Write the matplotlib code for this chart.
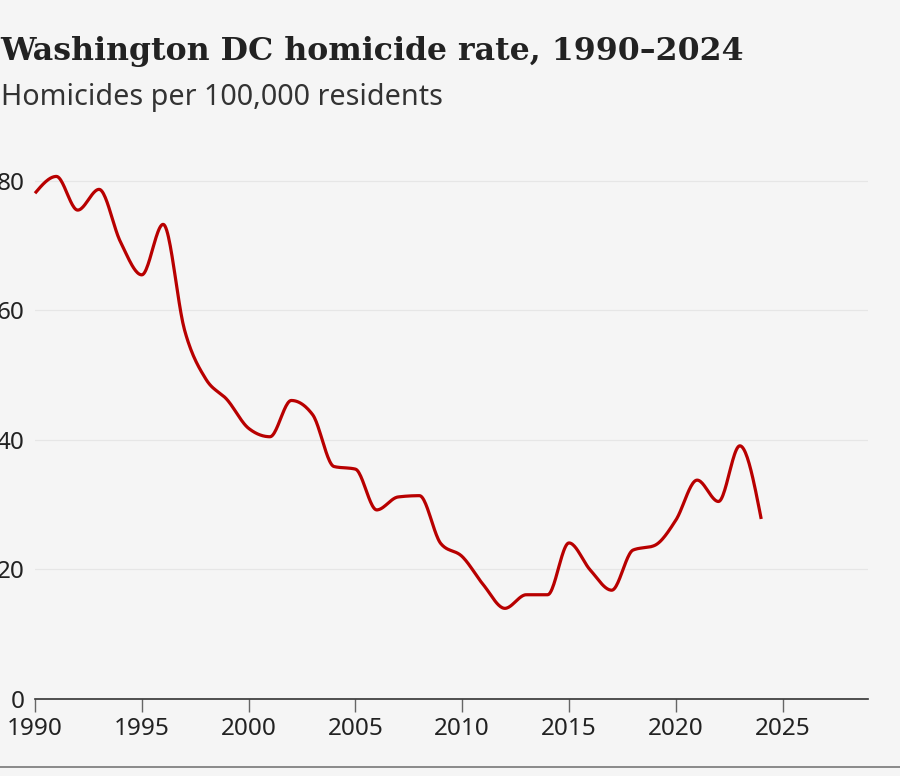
import numpy as np
import matplotlib
matplotlib.use("Agg")
import matplotlib.pyplot as plt
from matplotlib.lines import Line2D

# ---- data ----
years = list(range(1990, 2025))
rates = [78.1, 80.7, 75.5, 78.7, 70.6, 65.5, 73.3, 57.0, 49.4, 46.2,
         41.8, 40.5, 46.1, 43.9, 35.9, 35.5, 29.2, 31.2, 31.4, 24.0,
         22.0, 17.6, 14.0, 16.1, 16.1, 24.1, 19.9, 16.8, 23.0, 23.7,
         27.6, 33.8, 30.5, 39.1, 27.8]
x_ticks = [1990, 1995, 2000, 2005, 2010, 2015, 2020, 2025]
y_ticks = [0, 20, 40, 60, 80]
title = "Washington DC homicide rate, 1990\u20132024"
subtitle = "Homicides per 100,000 residents"

BG = "#f5f5f5"
RED = "#b80000"
TXT = "#222222"


def monotone_curve(x, y, n=24):
    """Monotone cubic (d3 curveMonotoneX style) through the data points."""
    x = np.asarray(x, float)
    y = np.asarray(y, float)
    h = np.diff(x)
    s = np.diff(y) / h
    m = np.zeros_like(y)
    for i in range(1, len(y) - 1):
        s0, s1 = s[i - 1], s[i]
        p = (s0 * h[i] + s1 * h[i - 1]) / (h[i - 1] + h[i])
        m[i] = (np.sign(s0) + np.sign(s1)) * min(abs(s0), abs(s1), 0.5 * abs(p))
    m[0] = (3 * s[0] - m[1]) / 2
    m[-1] = (3 * s[-1] - m[-2]) / 2
    xs, ys = [], []
    for i in range(len(x) - 1):
        t = np.linspace(0, 1, n, endpoint=(i == len(x) - 2))
        h00 = 2 * t**3 - 3 * t**2 + 1
        h10 = t**3 - 2 * t**2 + t
        h01 = -2 * t**3 + 3 * t**2
        h11 = t**3 - t**2
        xs.append(x[i] + t * h[i])
        ys.append(h00 * y[i] + h10 * h[i] * m[i] + h01 * y[i + 1] + h11 * h[i] * m[i + 1])
    return np.concatenate(xs), np.concatenate(ys)


W, H = 900, 776
fig = plt.figure(figsize=(W / 100, H / 100), dpi=100, facecolor=BG)

ax_left, ax_right = 35, 868
ax_bottom, ax_top = 699, 168
ax = fig.add_axes([ax_left / W, (H - ax_bottom) / H,
                   (ax_right - ax_left) / W, (ax_bottom - ax_top) / H])
ax.set_facecolor(BG)

cx, cy = monotone_curve(years, rates)
ax.plot(cx, cy, color=RED, lw=2.3, solid_capstyle="butt", clip_on=False, zorder=3)

ax.set_xlim(1990, 2029)
ax.set_ylim(0, 82)

for sp in ["top", "right", "left"]:
    ax.spines[sp].set_visible(False)
ax.spines["bottom"].set_color("#333333")
ax.spines["bottom"].set_linewidth(1.2)

ax.set_xticks(x_ticks)
ax.set_xticklabels([str(v) for v in x_ticks])
ax.set_yticks(y_ticks)
ax.set_yticklabels([str(v) for v in y_ticks])

ax.tick_params(axis="x", direction="out", length=9.5, width=1.0, color="#666666",
               pad=3.5, labelsize=17.5, labelcolor=TXT)
ax.tick_params(axis="y", length=0, pad=7.5, labelsize=17.5, labelcolor=TXT)
for lab in ax.get_xticklabels() + ax.get_yticklabels():
    lab.set_fontfamily("Noto Sans")

ax.yaxis.grid(True, color="#e6e6e6", lw=0.9)
ax.set_axisbelow(True)

# title / subtitle
t = fig.text(0.0 / W, 1 - 60 / H, title, family="DejaVu Serif", weight="bold",
             fontsize=26, color=TXT, ha="left", va="baseline")
st = fig.text(1 / W, 1 - 105 / H, subtitle, family="Noto Sans",
              fontsize=18, color="#333333", ha="left", va="baseline")

# fit text widths to the reference
r = fig.canvas.get_renderer()
for txt, target in [(t, 745), (st, 441)]:
    w = txt.get_window_extent(r).width
    txt.set_fontsize(txt.get_fontsize() * target / w)

# bottom rule
fig.add_artist(Line2D([0, 1], [1 - 767 / H, 1 - 767 / H], transform=fig.transFigure,
                      color="#777777", lw=1.2))

fig.savefig("out.png", dpi=100, facecolor=BG)
